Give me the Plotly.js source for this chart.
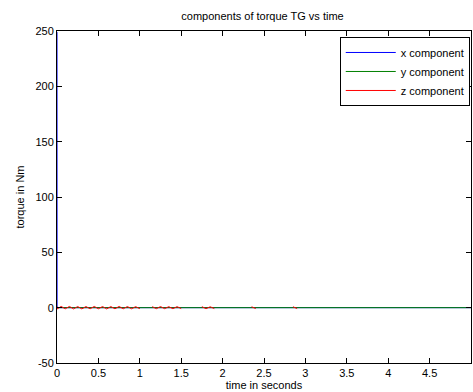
<!DOCTYPE html>
<html>
<head>
<meta charset="utf-8">
<script src="https://cdn.plot.ly/plotly-3.0.1.min.js"></script>
<style>html,body{margin:0;padding:0;background:#fff;}#chart{width:473px;height:392px;}</style>
</head>
<body>
<div id="chart"></div>
<script>
var time = [0, 0.001, 0.05, 0.1, 0.15, 0.2, 0.25, 0.3, 0.35, 0.4, 0.45, 0.5, 0.55, 0.6, 0.65, 0.7, 0.75, 0.8, 0.85, 0.9, 0.95, 1.0,
  1.05, 1.1, 1.15, 1.2, 1.25, 1.3, 1.35, 1.4, 1.45, 1.5, 1.55, 1.6, 1.65, 1.7, 1.75, 1.8, 1.85, 1.9, 1.95, 2.0,
  2.05, 2.1, 2.15, 2.2, 2.25, 2.3, 2.35, 2.4, 2.45, 2.5, 2.55, 2.6, 2.65, 2.7, 2.75, 2.8, 2.85, 2.9, 2.95, 3.0,
  3.5, 4.0, 4.5, 5.0];
var xComponent = [249, 0, 0, 0, 0, 0, 0, 0, 0, 0, 0, 0, 0, 0, 0, 0, 0, 0, 0, 0, 0, 0,
  0, 0, 0, 0, 0, 0, 0, 0, 0, 0, 0, 0, 0, 0, 0, 0, 0, 0, 0, 0,
  0, 0, 0, 0, 0, 0, 0, 0, 0, 0, 0, 0, 0, 0, 0, 0, 0, 0, 0, 0,
  0, 0, 0, 0];
var yComponent = [0, 0, 0, 0, 0, 0, 0, 0, 0, 0, 0, 0, 0, 0, 0, 0, 0, 0, 0, 0, 0, 0,
  0, 0, 0, 0, 0, 0, 0, 0, 0, 0, 0, 0, 0, 0, 0, 0, 0, 0, 0, 0,
  0, 0, 0, 0, 0, 0, 0, 0, 0, 0, 0, 0, 0, 0, 0, 0, 0, 0, 0, 0,
  0, 0, 0, 0];
var zComponent = [1.2, -1.2, 1.1, -1.0, 1.1, -1.1, 1.0, -1.1, 1.0, -1.0, 1.1, -1.0, 1.0, -1.1, 1.0, -1.0, 1.1, -1.0, 1.0, -1.0, 0.9, -0.9,
  null, null, 0.9, -0.9, 1.0, -0.9, 0.9, -0.9, 0.9, -0.8, null, null, null, null, 0.9, -0.9, 0.8, -0.8, null, null,
  null, null, null, null, null, null, 0.8, -0.8, null, null, null, null, null, null, null, null, 0.8, -0.8, null, null,
  null, null, null, null];
var seriesNames = ['x component', 'y component', 'z component'];
var seriesColors = ['#0000ff', '#008000', '#ff0000'];
var yTicks = [-50, 0, 50, 100, 150, 200, 250];
var xTicks = [0, 0.5, 1, 1.5, 2, 2.5, 3, 3.5, 4, 4.5, 5];

var series = [xComponent, yComponent, zComponent];
var traces = series.map(function (vals, i) {
  return {
    x: time, y: vals, type: 'scatter', mode: 'lines',
    name: seriesNames[i],
    line: {color: seriesColors[i], width: 1},
    connectgaps: false
  };
});

var font = {family: 'Liberation Sans, Arial, sans-serif', size: 11, color: '#000'};
var axisCommon = {
  showgrid: false, zeroline: false, showline: true, linecolor: '#000', linewidth: 1,
  mirror: 'ticks', ticks: 'inside', ticklen: 5, tickcolor: '#000', tickwidth: 1,
  tickfont: font
};
var layout = {
  width: 473, height: 392,
  margin: {l: 57, r: 2, t: 31, b: 29},
  paper_bgcolor: '#fff', plot_bgcolor: '#fff',
  font: font,
  showlegend: true,
  title: {text: 'components of torque TG vs time', font: font, x: 0.555, xanchor: 'center', y: 0.96, yanchor: 'middle'},
  xaxis: Object.assign({}, axisCommon, {
    range: [0, 5], tickvals: xTicks, ticktext: xTicks.map(String),
    title: {text: 'time in seconds', font: font, standoff: 2}
  }),
  yaxis: Object.assign({}, axisCommon, {
    range: [-50, 250], tickvals: yTicks, ticktext: yTicks.map(String),
    title: {text: 'torque in Nm', font: font, standoff: 8}
  }),
  legend: {
    x: 0.997, xanchor: 'right', y: 0.982, yanchor: 'top',
    bgcolor: '#fff', bordercolor: '#000', borderwidth: 1,
    font: font, tracegroupgap: 0, itemwidth: 50
  }
};
Plotly.newPlot('chart', traces, layout, {displayModeBar: false, staticPlot: true});
</script>
</body>
</html>
